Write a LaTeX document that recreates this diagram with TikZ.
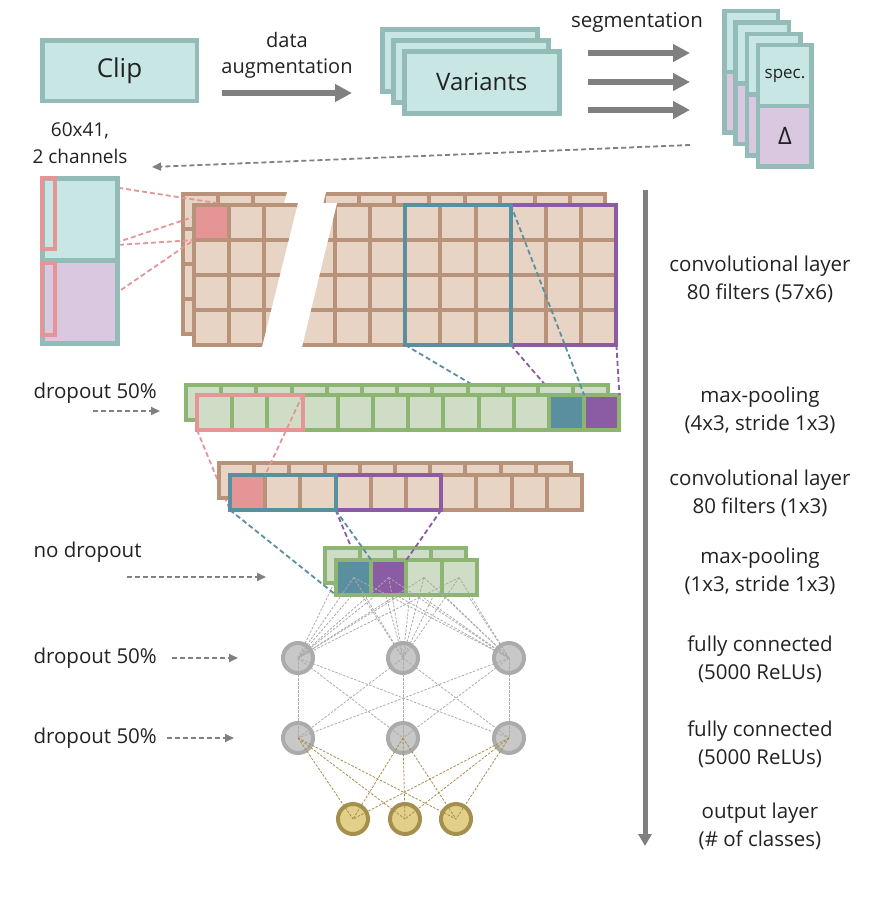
\documentclass[tikz,border=0pt]{standalone}
\usepackage{fontspec}
\setmainfont{Open Sans}
\usetikzlibrary{positioning, arrows.meta}

\definecolor{tealedge}{HTML}{93BCB8}
\definecolor{tealfill}{HTML}{C8E7E4}
\definecolor{lavfill}{HTML}{D9C8E0}
\definecolor{pinkc}{HTML}{E69596}
\definecolor{brownedge}{HTML}{B8937A}
\definecolor{brownfill}{HTML}{E8D4C4}
\definecolor{greenedge}{HTML}{8DB572}
\definecolor{greenfill}{HTML}{CFDCC6}
\definecolor{kteal}{HTML}{5A8FA0}
\definecolor{kpurple}{HTML}{8B5BA3}
\definecolor{arrowgray}{HTML}{808080}
\definecolor{neurfill}{HTML}{C8C8C8}
\definecolor{neuredge}{HTML}{ABABAB}
\definecolor{outfill}{HTML}{E2D088}
\definecolor{outedge}{HTML}{A48F4E}
\definecolor{textc}{HTML}{222222}

\pgfdeclarelayer{under}
\pgfdeclarelayer{back}
\pgfdeclarelayer{wires}
\pgfsetlayers{under,back,wires,main}

\tikzset{
x=1pt, y=-1pt, % one unit per pixel, y grows downwards
every node/.style={text=textc, font=\fontsize{20.5}{28}\selectfont, align=center},
box/.style={draw=tealedge, fill=tealfill, line width=4.5pt, inner sep=0pt, outer sep=0pt}, % clip, variants, segments
varbox/.style={box, minimum width=155pt, minimum height=62pt},
segtop/.style={box, minimum width=53.5pt, minimum height=60.75pt},
segbot/.style={segtop, fill=lavfill},
inbox/.style={box, line width=5pt, minimum width=75pt},
pinkbox/.style={draw=pinkc, line width=4pt, minimum width=13pt, inner sep=0pt, outer sep=0pt},
ccell/.style={draw=brownedge, fill=brownfill, line width=4pt, minimum width=35.2pt, minimum height=35pt, inner sep=0pt, outer sep=0pt}, % conv cells
pcell/.style={ccell, draw=greenedge, fill=greenfill}, % pooling cells
kernel/.style={line width=4pt},
bigarrow/.style={draw=arrowgray, line width=5.5pt, -{Triangle[length=17pt, width=17pt]}},
flowarrow/.style={draw=arrowgray, line width=5pt, -{Triangle[length=12pt, width=13pt]}},
hintarrow/.style={draw=arrowgray, line width=1.8pt, dash pattern=on 5pt off 3pt, -{Triangle[length=9pt, width=8pt]}},
pinkdash/.style={draw=pinkc, line width=1.8pt, dash pattern=on 5pt off 3pt},
tealdash/.style={pinkdash, draw=kteal},
purpdash/.style={pinkdash, draw=kpurple},
neuron/.style={circle, draw=neuredge, fill=neurfill, line width=4pt, minimum size=30pt, inner sep=0pt},
outneuron/.style={neuron, draw=outedge, fill=outfill},
wire/.style={draw=neuredge, line width=0.8pt, dash pattern=on 2.5pt off 1.5pt},
owire/.style={wire, draw=outedge},
}

\begin{document}
\begin{tikzpicture}
\useasboundingbox (0,0) rectangle (879,905);

% input pipeline
\node[box, minimum width=154.5pt, minimum height=60.5pt, font=\fontsize{26}{30}\selectfont] (clip) at (119.5,70.5) {Clip};
\node[font=\fontsize{20}{26}\selectfont] (augtxt) at (287,55) {data\\augmentation};
\coordinate (aug a) at (222,93);
\coordinate (aug b) at (352,93);
\draw[bigarrow] (aug a) -- (aug b);
\node[varbox] (var0) at (459.75,60.25) {};
\node[varbox] (var1) at (470.75,71.25) {};
\node[varbox, font=\fontsize{24}{28}\selectfont] (var2) at (481.75,82.25) {Variants};
\node (segtxt) at (637,22) {segmentation};
\foreach \y [count=\i] in {53,82,110} {
  \coordinate (sa\i) at (588,\y);
  \coordinate (sb\i) at (690,\y);
  \draw[bigarrow] (sa\i) -- (sb\i);
}
\foreach \k in {0,...,3} {
  \node[segtop] (spec\k) at ({751+11.33*\k}, {41.6+11.33*\k}) {};
  \node[segbot, below=0pt of spec\k] (delta\k) {};
}
\node[font=\fontsize{17}{20}\selectfont] (spectxt) at (spec3) {spec.};
\node[font=\fontsize{24}{28}\selectfont] (deltatxt) at (delta3) {Δ};
\coordinate (seg out) at (690,145);
\coordinate (inp in) at (152,167);
\draw[hintarrow] (seg out) -- (inp in);
\node[font=\fontsize{19}{27}\selectfont] (inptxt) at (80,143) {60x41,\\2 channels};

% input spectrogram
\node[inbox, minimum height=81.5pt] (inp top) at (80,219.25) {};
\node[inbox, fill=lavfill, minimum height=83.5pt, below=0pt of inp top] (inp bot) {};
\node[pinkbox, minimum height=71pt] (pk1) at (48.5,213.5) {};
\node[pinkbox, minimum height=72pt] (pk2) at (48.5,299) {};

% first convolutional layer
\begin{pgfonlayer}{back}
\foreach \r in {0,...,3}
  \foreach \c in {0,...,11}
    \node[ccell] (b\r-\c) at ({200.6+35.2*\c}, {211.5+35*\r}) {};
\fill[white] (287,192) -- (326,192) -- (291,336) -- (251,336) -- cycle;
\end{pgfonlayer}
\foreach \r in {0,...,3}
  \foreach \c in {0,...,11}
    \node[ccell] (f\r-\c) at ({211.6+35.2*\c}, {222.5+35*\r}) {};
\node[ccell, fill=pinkc] (fhit) at (f0-0) {};
\fill[white] (298,203) -- (337,203) -- (302,347) -- (262,347) -- cycle;
\draw[kernel, kpurple] (f0-9.north west) rectangle (f3-11.south east);
\draw[kernel, kteal] (f0-6.north west) rectangle (f3-8.south east);
\begin{pgfonlayer}{wires}
\draw[pinkdash] (pk1.north east) -- (f0-0.north east);
\draw[pinkdash] (pk1.south east) -- (f0-0.south west);
\draw[pinkdash] (pk2.north east) -- (f0-0.north east);
\draw[pinkdash] (pk2.south east) -- (f0-0.south west);
\end{pgfonlayer}

% first max-pooling
\begin{pgfonlayer}{back}
\foreach \c in {0,...,11}
  \node[pcell] (p1b-\c) at ({203.6+35.2*\c}, 402.5) {};
\end{pgfonlayer}
\foreach \c in {0,...,11}
  \node[pcell] (p1f-\c) at ({214.6+35.2*\c}, 412.5) {};
\node[pcell, fill=kteal] (p1hit-a) at (p1f-10) {};
\node[pcell, fill=kpurple] (p1hit-b) at (p1f-11) {};
\draw[kernel, pinkc] (p1f-0.north west) rectangle (p1f-2.south east);
\begin{pgfonlayer}{under}
\draw[tealdash] (f3-6.south west) -- (p1f-10.south west);
\draw[purpdash] (f3-9.south west) -- (p1f-11.south west);
\end{pgfonlayer}
\draw[tealdash] (f0-9.north west) -- (p1f-10.north east);
\draw[purpdash] (f3-11.south east) -- (p1f-11.north east);

% second convolutional layer
\begin{pgfonlayer}{back}
\foreach \c in {0,...,9}
  \node[ccell] (c2b-\c) at ({236.6+35.2*\c}, 480.5) {};
\end{pgfonlayer}
\foreach \c in {0,...,9}
  \node[ccell] (c2f-\c) at ({247.6+35.2*\c}, 492.5) {};
\node[ccell, fill=pinkc] (c2hit) at (c2f-0) {};
\draw[kernel, kpurple] (c2f-3.north west) rectangle (c2f-5.south east);
\draw[kernel, kteal] (c2f-0.north west) rectangle (c2f-2.south east);
\begin{pgfonlayer}{under}
\draw[pinkdash] (p1f-0.south west) -- (c2f-0.south west);
\end{pgfonlayer}
\draw[pinkdash] (p1f-2.north east) -- (c2f-0.north east);

% second max-pooling
\begin{pgfonlayer}{back}
\foreach \c in {0,...,3}
  \node[pcell] (p2b-\c) at ({342.6+35.2*\c}, 565.5) {};
\end{pgfonlayer}
\foreach \c in {0,...,3}
  \node[pcell] (p2f-\c) at ({353.6+35.2*\c}, 577.5) {};
\node[pcell, fill=kteal] (p2hit-a) at (p2f-0) {};
\node[pcell, fill=kpurple] (p2hit-b) at (p2f-1) {};
\begin{pgfonlayer}{under}
\draw[purpdash] (c2f-3.south west) -- (p2f-1.south west);
\end{pgfonlayer}
\draw[tealdash] (c2f-0.south west) -- (p2f-0.south west);
\draw[tealdash] (c2f-2.south east) -- (p2f-0.north east);
\draw[purpdash] (c2f-5.south east) -- (p2f-1.north east);

% fully connected layers
\begin{pgfonlayer}{back}
\node[neuron] (h1a) at (298,658) {};
\node[neuron] (h1b) at (403,658) {};
\node[neuron] (h1c) at (509,658) {};
\node[neuron] (h2a) at (298,738) {};
\node[neuron] (h2b) at (403,738) {};
\node[neuron] (h2c) at (509,738) {};
\node[outneuron] (o1) at (353,819) {};
\node[outneuron] (o2) at (405,819) {};
\node[outneuron] (o3) at (456,819) {};
\end{pgfonlayer}
\begin{pgfonlayer}{wires}
\foreach \k in {0,...,3}
  \foreach \n in {h1a,h1b,h1c}
    \draw[wire] (p2b-\k.center) -- (\n.center);
\end{pgfonlayer}
\foreach \k in {0,...,3}
  \foreach \n in {h1a,h1b,h1c}
    \draw[wire] (p2f-\k.center) -- (\n.center);
\foreach \a in {h1a,h1b,h1c}
  \foreach \b in {h2a,h2b,h2c}
    \draw[wire] (\a.center) -- (\b.center);
\foreach \a in {h2a,h2b,h2c}
  \foreach \b in {o1,o2,o3}
    \draw[owire] (\a.center) -- (\b.center);

% dropout notes
\node[anchor=west] (drop1) at (30,393) {dropout 50\%};
\node[anchor=west] (drop2) at (30,552) {no dropout};
\node[anchor=west] (drop3) at (30,658) {dropout 50\%};
\node[anchor=west] (drop4) at (30,738) {dropout 50\%};
\coordinate (d1a) at (93,411);  \coordinate (d1b) at (160,411);
\coordinate (d2a) at (127,577); \coordinate (d2b) at (266,577);
\coordinate (d3a) at (172,658); \coordinate (d3b) at (238,658);
\coordinate (d4a) at (167,738); \coordinate (d4b) at (234,738);
\draw[hintarrow] (d1a) -- (d1b);
\draw[hintarrow] (d2a) -- (d2b);
\draw[hintarrow] (d3a) -- (d3b);
\draw[hintarrow] (d4a) -- (d4b);

% layer descriptions
\coordinate (flow top) at (645,190);
\coordinate (flow end) at (645,846);
\draw[flowarrow] (flow top) -- (flow end);
\node (lconv1) at (760,279) {convolutional layer\\80 filters (57x6)};
\node (lpool1) at (760,410.5) {max-pooling\\(4x3, stride 1x3)};
\node (lconv2) at (760,493) {convolutional layer\\80 filters (1x3)};
\node (lpool2) at (760,571.5) {max-pooling\\(1x3, stride 1x3)};
\node (lfc1) at (760,659.5) {fully connected\\(5000 ReLUs)};
\node (lfc2) at (760,744.5) {fully connected\\(5000 ReLUs)};
\node (lout) at (760,826) {output layer\\(\# of classes)};
\end{tikzpicture}
\end{document}
